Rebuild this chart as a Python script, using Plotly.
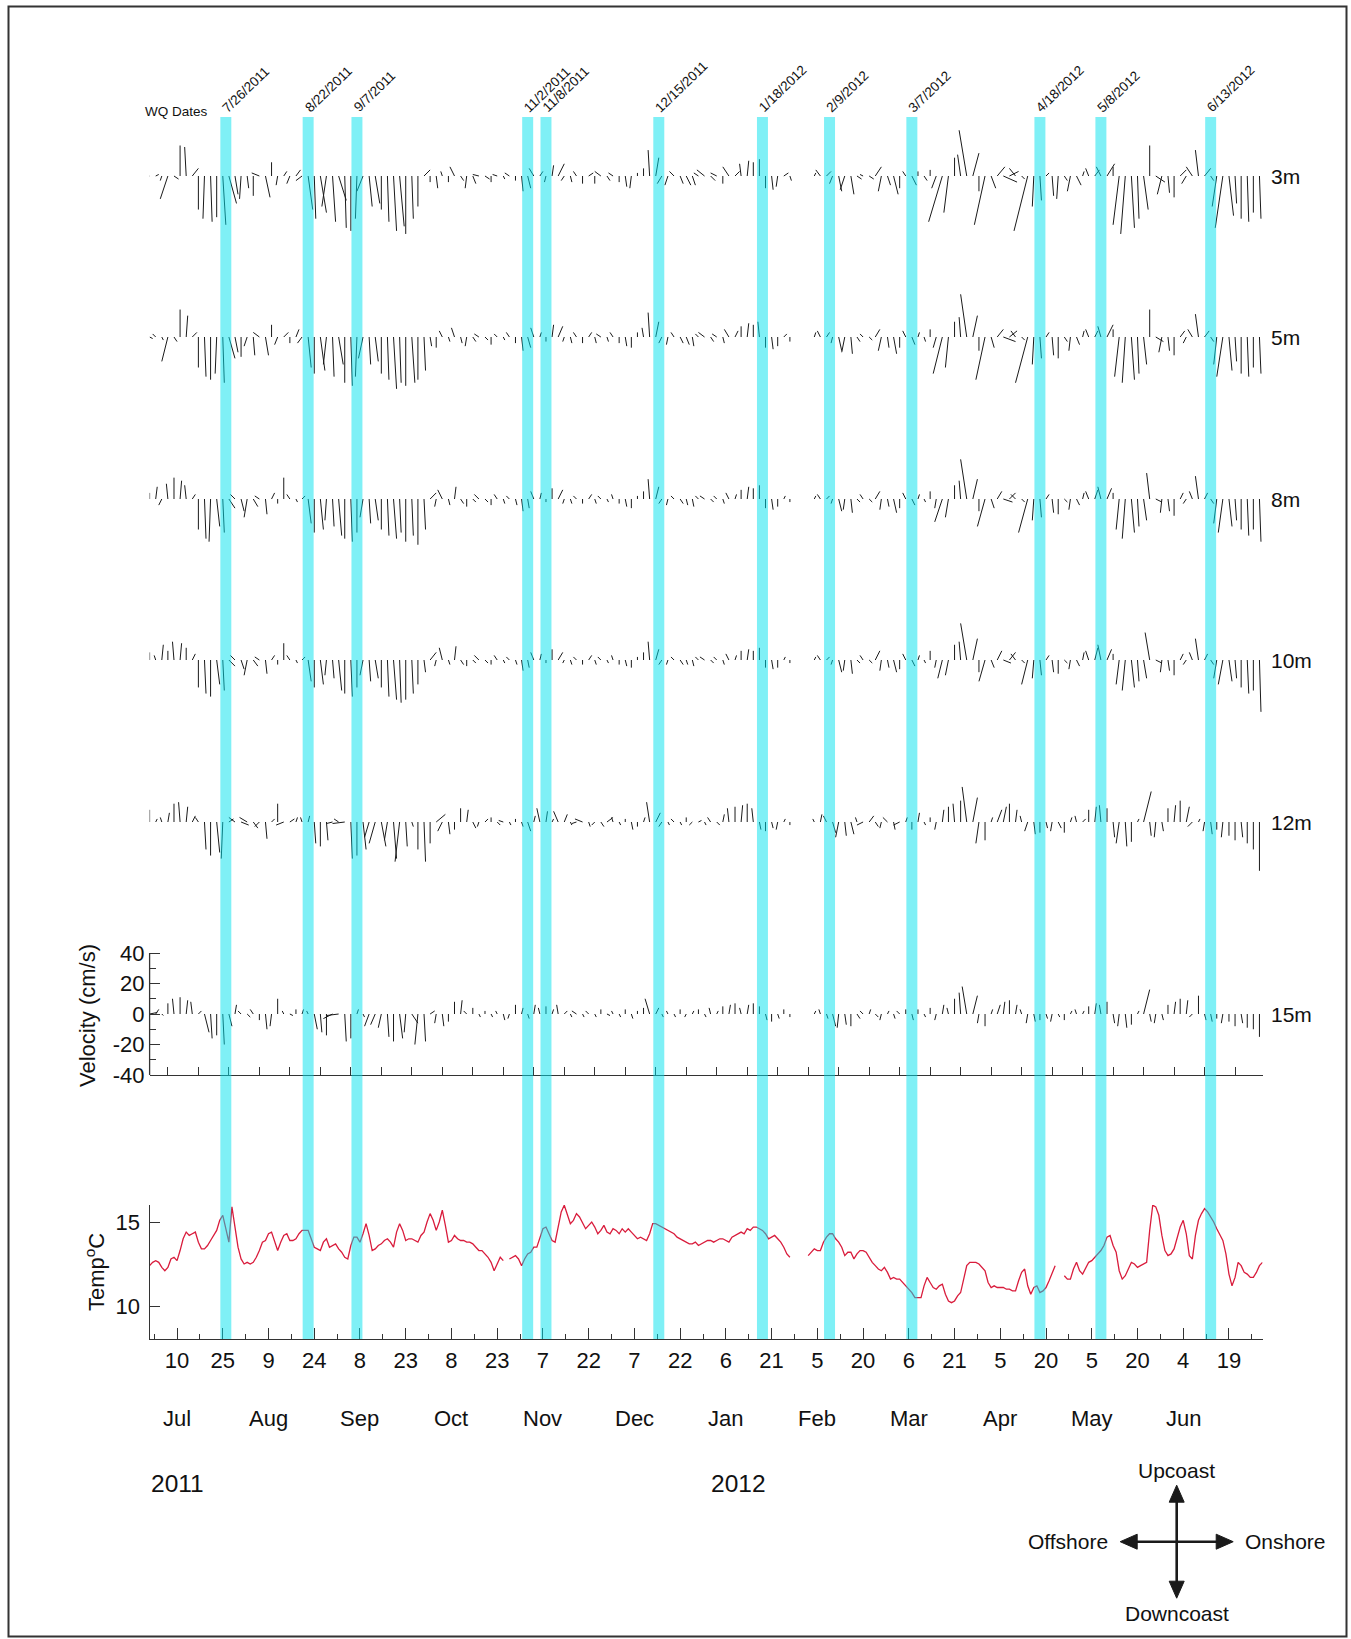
import plotly.graph_objects as go
from datetime import date

# ---------------------------------------------------------------- data
WQ_DATES = ["7/26/2011", "8/22/2011", "9/7/2011", "11/2/2011", "11/8/2011",
            "12/15/2011", "1/18/2012", "2/9/2012", "3/7/2012", "4/18/2012",
            "5/8/2012", "6/13/2012"]

DAY_TICK_LABELS = ["10", "25", "9", "24", "8", "23", "8", "23", "7", "22", "7", "22",
                   "6", "21", "5", "20", "6", "21", "5", "20", "5", "20", "4", "19"]
MONTHS = ["Jul", "Aug", "Sep", "Oct", "Nov", "Dec", "Jan", "Feb", "Mar", "Apr", "May", "Jun"]
YEARS = ["2011", "2012"]
DEPTHS = ["3m", "5m", "8m", "10m", "12m", "15m"]
VEL_TICKS = [-40, -20, 0, 20, 40]
TEMP_TICKS = [10, 15]

# current record: one stick every 2 days from 1 Jul 2011 (cm/s)
# v = along-shore (+ upcoast), u = cross-shore (+ onshore)
N = None
V3 = [-2, 1, -3, -15, -2, 20, 19, 5, -22, -28,
      -30, -27, -32, -18, -12, -15, -8, -13, 2, -14,
      9, -6, 3, -5, 4, -3, -22, -28, -24, -20,
      -30, -16, -34, -36, -28, -10, -20, -18, -22, -30,
      -36, -33, -38, -28, -20, 4, -4, -8, 3, -4,
      6, -3, -8, -5, 1, -2, -4, 1, -2, 2,
      -3, -10, -8, 5, 3, -4, 7, 8, -3, -4,
      3, -5, 2, -5, 3, -3, 2, -4, -7, -8,
      2, 5, 17, 12, -5, -6, 3, -5, -6, -6,
      2, 4, -3, 2, -5, 6, 3, 8, 10, 9,
      11, -8, -9, -7, 2, -3, N, N, N, 2,
      4, 3, -5, -10, -9, -12, -2, 1, -2, 6,
      -10, -6, -12, -8, 3, -6, 3, -3, 4, -8,
      -30, -24, 12, 14, 30, 15, -10, -32, -8, 6,
      -4, 3, 5, -2, -36, -20, -16, 2, -13, -15,
      -3, -10, -6, 3, 5, 4, 6, 8, 6, -32,
      -38, -34, -28, -22, 20, -4, -12, -11, -14, 4,
      -5, 6, 17, 5, -3, -20, -34, -26, -18, -28,
      -30, -24, -28]
U3 = [-3, 2, -1, -5, 3, 0, -1, 4, 0, -1,
      1, 0, 2, 5, 2, -1, 1, 0, -5, 3,
      0, -1, 2, -2, 3, -4, 3, 1, 4, -3,
      2, 5, 1, 0, -1, -4, 2, 3, 0, 1,
      2, 3, 0, 1, 0, 4, 0, 1, -1, 0,
      -3, 2, -1, 2, -4, 3, 0, -3, 1, -3,
      0, 1, 2, -3, 2, -1, 1, 4, -2, 1,
      -2, 0, 3, 0, -4, 2, -3, 0, 1, -1,
      0, 0, -1, 2, -3, -2, -3, 2, 3, 2,
      -3, -5, 3, -4, 0, -4, 3, -1, 1, 0,
      0, 0, 1, -1, 3, 1, N, N, N, 1,
      -3, 3, -2, 2, -3, 2, 3, -2, 3, 4,
      -2, 2, 3, 0, -2, 3, 0, 2, 0, -3,
      -9, -3, 0, -2, -5, 4, 0, -7, 3, 5,
      9, 6, -4, 2, -9, -1, 1, 2, 1, -1,
      2, -2, 3, 1, -2, 3, -3, 5, 0, -4,
      -3, 2, 1, 3, 0, 6, -3, 1, 0, 4,
      -3, -4, -2, 4, 2, -3, -5, 3, 1, 0,
      1, 0, 1]

V5 = [-1, 2, -2, -16, -3, 18, 14, 3, -20, -26,
      -28, -24, -30, -14, -10, -13, -6, -12, 3, -12,
      8, -5, 3, -4, 5, -4, -20, -24, -22, -18,
      -26, -18, -30, -32, -26, -14, -18, -16, -24, -28,
      -34, -30, -32, -30, -28, -22, -6, -7, 4, -3,
      6, -4, -6, -3, 2, -2, -5, 2, -2, 3,
      -4, -9, -7, 6, 3, -3, 8, 7, -3, -4,
      3, -4, 3, -4, 2, -3, 3, -4, -6, -7,
      3, 6, 16, 10, -4, -5, 3, -4, -5, -6,
      2, 3, -3, 2, -4, 5, 4, 7, 9, 8,
      10, -7, -8, -6, 2, -3, N, N, N, 3,
      4, 3, -4, -9, -10, -11, -3, 2, -2, 5,
      -9, -7, -11, -7, 4, -5, 3, -3, 5, -7,
      -24, -20, 10, 13, 28, 14, -9, -28, -7, 5,
      -3, 4, 4, -2, -30, -18, -14, 3, -12, -14,
      -3, -9, -5, 4, 5, 4, 7, 8, 5, -26,
      -30, -28, -24, -18, 18, -3, -10, -9, -12, 4,
      -4, 5, 15, 4, -3, -18, -26, -22, -16, -24,
      -26, -20, -24]
U5 = [2, -2, 1, -4, 2, 0, 1, 3, 0, 1,
      0, -1, 1, 4, 2, 0, -2, 1, -4, 2,
      0, -2, 3, 0, 2, -3, 2, 0, 3, -2,
      1, 3, 0, 1, -1, -3, 1, 2, 0, 1,
      2, 1, 0, 2, 0, 1, 1, 0, -2, 1,
      -2, 1, -1, 2, -3, 2, 0, -2, 1, -2,
      0, 1, 2, -2, 1, 0, 1, 3, -1, 1,
      -2, 0, 2, 1, -3, 1, -2, 0, 1, 0,
      0, -1, -1, 2, -2, -1, -2, 2, 2, 1,
      -2, -4, 2, -3, 1, -3, 2, 0, 1, 0,
      -1, 0, 1, 0, 2, 0, N, N, N, 1,
      -2, 2, -1, 2, -2, 1, 2, -2, 2, 3,
      -2, 1, 2, 0, -2, 2, 1, 1, 0, -2,
      -6, -2, 0, -1, -4, 3, 0, -6, 2, 4,
      8, 5, -3, 2, -8, -1, 1, 2, 1, 0,
      2, -1, 2, 1, -2, 2, -2, 4, 0, -3,
      -2, 2, 1, 2, 0, 5, -2, 1, 0, 3,
      -2, -3, -2, 3, 2, -2, -4, 2, 1, 0,
      1, 0, 1]

V8 = [4, 8, -4, 10, 14, 12, 9, 3, -20, -26,
      -28, -18, -22, -6, 3, -8, -12, -5, 2, -10,
      4, -3, 14, 3, -2, 2, -16, -22, -20, -14,
      -18, -24, -26, -28, -22, -12, -16, -14, -20, -24,
      -26, -22, -28, -24, -30, -20, 4, -5, 6, -4,
      8, -3, -5, -2, 3, -2, -4, 3, -3, 2,
      -4, -8, -6, 5, 4, -2, 7, 6, -3, -3,
      2, -3, 3, -3, 2, -2, 3, -3, -5, -6,
      2, 5, 13, 8, -3, -4, 2, -3, -4, -5,
      2, 2, -2, 2, -3, 4, 3, 6, 8, 7,
      9, -6, -7, -5, 2, -2, N, N, N, 2,
      3, 2, -3, -8, -7, -9, -2, 3, -2, 5,
      -7, -5, -9, -6, 4, -4, 3, -2, 5, -6,
      -15, -12, 9, 12, 26, 13, -8, -18, -6, 5,
      -2, 4, 3, -2, -22, -14, -12, 3, -9, -10,
      -2, -7, -4, 4, 5, 6, 8, 7, 4, -20,
      -26, -22, -18, -14, 17, -2, -9, -8, -11, 4,
      -3, 5, 15, 4, -3, -16, -22, -18, -14, -20,
      -24, -20, -28]
U8 = [0, 1, -2, -1, 0, 1, -1, 2, 0, 1,
      -1, 2, 1, 4, -3, 2, -2, 3, -3, 1,
      2, 0, 0, -2, 1, 2, 2, 0, 2, -1,
      1, 2, 0, 1, 0, -2, 1, 2, 0, 1,
      2, 1, 0, 1, 0, 1, 4, -1, -3, 1,
      1, 2, 0, 2, -3, 2, 0, -2, 1, -2,
      1, 1, 1, -2, 1, 0, 0, 3, -1, 1,
      -2, 0, 2, 1, -2, 1, -1, 0, 1, 0,
      0, 0, -1, 2, -2, -1, -2, 2, 1, 1,
      -2, -3, 2, -2, 1, -2, 1, 0, 1, 0,
      0, 0, 1, 0, 1, 0, N, N, N, 1,
      -2, 2, -1, 2, -1, 1, 2, -2, 2, 3,
      -1, 1, 2, 0, -2, 2, 1, 1, 0, -1,
      -5, -2, 0, -1, -4, 3, 0, -5, 2, 3,
      6, 4, -3, 2, -6, -1, 1, 2, 1, 0,
      2, -1, 2, 1, -2, 2, -2, 3, 0, -2,
      -2, 2, 1, 2, -2, 4, -1, 1, 0, 2,
      -2, -2, -2, 2, 2, -2, -3, 2, 1, 0,
      1, 0, 1]

V10 = [5, 3, 10, 6, 12, 11, 8, 4, -18, -22,
       -24, -16, -20, -4, 3, -6, -10, -4, 2, -9,
       3, -3, 11, 3, -2, 2, -14, -18, -16, -10,
       -12, -20, -22, -24, -18, -10, -14, -12, -18, -24,
       -26, -28, -26, -22, -16, -8, 5, -4, 8, -3,
       9, -3, -4, -2, 3, -2, -3, 3, -2, 2,
       -3, -7, -5, 5, 4, -2, 7, 5, -2, -3,
       2, -3, 3, -3, 2, -2, 3, -3, -4, -5,
       2, 5, 12, 7, -3, -3, 2, -3, -3, -4,
       2, 2, -2, 2, -3, 4, 3, 6, 7, 6,
       8, -5, -6, -5, 2, -2, N, N, N, 2,
       3, 2, -3, -8, -7, -9, -2, 3, -2, 6,
       -7, -5, -8, -6, 4, -4, 3, -2, 6, -5,
       -12, -10, 10, 12, 24, 14, -8, -14, -5, 6,
       -2, 5, 4, -2, -16, -12, -10, 3, -8, -9,
       -2, -6, -4, 5, 6, 8, 10, 7, 4, -16,
       -20, -18, -14, -12, 18, -2, -8, -7, -10, 4,
       -3, 5, 14, 4, -3, -12, -16, -14, -12, -18,
       -22, -20, -34]
U10 = [0, -1, 1, 0, -1, 1, 0, 2, 0, 1,
       0, 2, 1, 4, -3, 2, -2, 3, -3, 1,
       2, 0, 0, -2, 1, 2, 2, 0, 2, -1,
       1, 2, 0, 1, 0, -2, 1, 2, 0, 1,
       2, 1, 0, 1, 0, 1, 4, -1, -2, 1,
       1, 2, 0, 2, -3, 2, 0, -2, 1, -2,
       1, 1, 1, -2, 1, 0, 0, 3, -1, 1,
       -2, 0, 2, 1, -2, 1, -1, 0, 1, 0,
       0, 0, -1, 2, -2, -1, -2, 2, 1, 1,
       -2, -3, 2, -2, 1, -2, 1, 0, 1, 0,
       0, 0, 1, 0, 1, 0, N, N, N, 1,
       -2, 2, -1, 2, -1, 1, 2, -2, 2, 3,
       -1, 1, 2, 0, -2, 2, 1, 1, 0, -1,
       -3, -2, 0, -1, -4, 3, 0, -4, 2, 3,
       5, 4, -3, 2, -4, -1, 1, 2, 1, 0,
       2, -1, 2, 1, -2, 2, -2, 3, 0, -2,
       -2, 2, 1, 2, -3, 4, -1, 1, 0, 2,
       -2, -2, -2, 2, 2, -2, -3, 2, 1, 0,
       1, 0, 1]

V12 = [8, 2, 3, 6, 12, 13, 10, 4, 3, -18,
       -22, -20, -24, 2, 3, -2, 3, -4, -3, -11,
       2, 12, -2, 2, 3, 3, 4, -14, -16, -12,
       -1, 2, -1, -24, -22, -18, -10, -14, -16, -12,
       -24, -26, -16, -3, -18, -26, -14, 5, -6, -8,
       -5, 9, 8, -4, -3, 2, 3, -2, 1, -2,
       2, -3, -6, 4, 9, 7, 2, 7, 5, -2,
       -1, 2, -3, -2, -3, 3, 3, -2, 2, -5,
       -3, 3, 13, 6, -3, -2, 2, -2, 3, -2,
       1, -2, 3, -2, 5, 9, 10, 11, 12, 9,
       -5, -6, -4, -5, 2, -2, N, N, N, 2,
       5, 4, -7, -10, -9, -8, 3, -2, 4, -3,
       -4, 3, -5, -2, 3, -5, 6, -2, 3, -5,
       8, 10, 12, 14, 23, 16, -14, -12, 3, 8,
       10, 12, 8, 4, -6, -8, -7, -4, -6, -4,
       -7, 3, 4, 2, 8, 10, 11, 9, -10, -14,
       -16, -13, 2, 20, -9, -10, -6, 9, 11, 14,
       10, -3, 2, -6, -8, -5, -10, -9, -12, -10,
       -14, -18, -32]
U12 = [0, 1, -1, 1, 0, -1, 1, 2, -2, 1,
       0, 2, -1, 3, -4, 5, -5, 3, -3, 1,
       2, 0, -5, 3, 1, -1, 1, 1, 0, 1,
       -4, -3, -8, 1, 0, 2, -3, -4, 3, -2,
       2, -3, 1, 1, 0, 1, 0, 6, -3, 1,
       0, 0, 1, 2, -1, 2, 0, 2, -3, 1,
       0, 1, 2, 1, -2, 1, 1, -3, 2, 1,
       -3, -5, 1, -2, 2, 4, -1, 1, 0, 1,
       0, 1, -2, 3, -2, 1, -2, 1, 0, -2,
       2, 1, -2, 2, 1, -1, 0, 1, 0, -1,
       1, 0, 1, -1, 1, 0, N, N, N, -1,
       1, -2, 2, -2, 1, 2, -1, -4, 3, 2,
       -1, -3, 1, -4, 1, 0, 1, 1, 0, -1,
       1, 0, -1, 0, -3, 3, -2, 0, 1, 3,
       2, 0, 1, -1, -2, 1, 0, 1, -1, 2,
       0, 1, -1, 2, 0, 1, -1, 0, 1, -2,
       1, 0, 1, 5, 1, -1, 1, 0, 1, 0,
       2, -3, 1, -1, 1, 0, -1, 0, 0, 1,
       0, 0, 0]

V15 = [1, 3, -1, 7, 10, 11, 9, 8, 2, -12,
       -16, -14, -20, -8, 6, 2, -2, 3, -4, -10,
       -8, 10, 2, -1, 3, 3, 2, -10, -12, -14,
       -3, -1, -18, -16, 3, -2, -8, -7, -9, -15,
       -18, -16, -12, -6, -20, -18, 2, -6, -8, -5,
       8, 9, 2, 4, -2, 2, -2, 2, -4, -3,
       6, 4, -3, 6, 4, 5, 3, 6, 2, -2,
       2, -2, 2, -2, 3, -1, 2, -2, 3, -3,
       2, 4, 10, 4, -2, 2, -2, 3, -2, 2,
       3, -2, 4, 2, 5, 6, 7, 4, 6, 7,
       5, -4, -5, -3, 3, -2, N, N, N, 2,
       3, -3, -8, -9, -7, -8, -3, 2, 3, -2,
       -4, 2, -3, 2, 3, -4, 3, -2, 4, -4,
       6, 4, 10, 14, 18, 12, -6, -8, 3, 6,
       8, 9, 6, 3, -6, -5, -4, -3, -5, -2,
       -4, 2, 3, 2, 5, 7, 6, 8, -6, -8,
       -9, -7, 2, 16, -5, -6, -4, 6, 8, 10,
       9, -2, 12, -4, -5, -3, -6, -5, -8, -6,
       -9, -10, -15]
U15 = [5, 2, 1, 0, -1, 0, 1, -1, 2, 3,
       1, 0, 1, 2, 1, -2, 2, -2, 0, 1,
       -1, 0, -1, 2, 0, 1, -1, 2, 1, 0,
       -6, -8, 1, 0, 1, 1, -3, -3, -2, 1,
       0, 2, -1, 4, -2, 1, 3, -1, 1, 0,
       0, 1, -2, 0, 1, 0, 1, -1, 1, -1,
       0, 1, 1, 1, -1, 0, 1, -1, 2, 1,
       -3, 1, -2, 1, 0, 2, -1, 1, 0, 1,
       0, 0, -3, 2, 1, -1, 1, 0, -1, 1,
       0, 1, -1, 1, 0, 1, 0, -1, 1, 0,
       0, 1, 0, 1, 0, 0, N, N, N, 1,
       -1, 1, 2, -1, 1, 0, 2, -2, 1, 2,
       -1, 1, 1, -2, 0, 1, 0, 1, 0, -1,
       1, -1, 0, -1, -3, 3, -1, 0, 1, 2,
       1, 0, 1, -1, -1, 1, 0, 1, -1, 1,
       0, 1, -1, 1, 0, 1, -1, 0, 1, -1,
       1, 0, 1, 4, 1, -1, 1, 0, 1, 0,
       1, -2, 0, 1, 1, 0, -1, 0, 0, 1,
       0, 0, 0]

# daily mean temperature from 1 Jul 2011 (deg C), None = no data
TEMP = [12.4, 12.6, 12.7, 12.6, 12.3, 12.1, 12.3, 12.8, 12.9, 12.7,
        13.3, 14.0, 14.4, 14.2, 14.3, 14.4, 13.8, 13.4, 13.4, 13.6,
        13.9, 14.2, 14.5, 15.1, 15.4, 14.6, 13.8, 15.9, 14.8, 13.5,
        12.8, 12.5, 12.6, 12.5, 12.6, 12.9, 13.3, 13.8, 13.9, 14.3,
        14.4, 13.8, 13.3, 13.8, 14.2, 14.3, 13.9, 13.9, 14.0, 14.3,
        14.5, 14.5, 14.5, 14.0, 13.5, 13.4, 13.3, 13.8, 14.0, 13.5,
        13.6, 13.7, 13.4, 13.2, 12.9, 12.8, 13.6, 14.1, 14.1, 13.8,
        14.3, 14.9, 14.2, 13.3, 13.4, 13.6, 13.7, 13.9, 14.0, 13.8,
        13.5, 14.4, 14.9, 14.5, 13.9, 14.0, 14.0, 13.9, 13.8, 14.2,
        14.4, 15.0, 15.5, 15.1, 14.5, 15.0, 15.7, 14.8, 13.8, 13.9,
        14.2, 14.0, 13.9, 13.9, 13.8, 13.8, 13.7, 13.5, 13.3, 13.3,
        13.1, 12.9, 12.6, 12.1, 12.5, 12.9, 12.7, None, 12.8, 12.9,
        13.0, 12.8, 12.4, 12.8, 13.1, 13.2, 13.5, 13.5, 14.0, 14.6,
        14.7, 14.3, 13.9, 13.8, 14.8, 15.6, 16.0, 15.4, 14.9, 15.1,
        15.5, 15.3, 14.9, 14.6, 14.8, 15.0, 14.7, 14.3, 14.5, 14.8,
        14.4, 14.3, 14.6, 14.5, 14.3, 14.6, 14.4, 14.6, 14.4, 14.2,
        14.0, 14.1, 14.0, 13.9, 14.3, 14.9, 14.9, 14.8, 14.7, 14.6,
        14.5, 14.4, 14.3, 14.1, 14.0, 13.9, 13.8, 13.7, 13.7, 13.8,
        13.6, 13.7, 13.8, 13.9, 13.9, 13.8, 13.9, 14.0, 14.0, 13.9,
        13.8, 14.1, 14.2, 14.3, 14.4, 14.3, 14.6, 14.5, 14.7, 14.7,
        14.6, 14.5, 14.3, 14.0, 14.1, 14.2, 14.0, 13.8, 13.5, 13.1,
        12.9, None, None, None, None, None, 13.0, 13.2, 13.4, 13.3,
        13.3, 13.8, 14.1, 14.3, 14.3, 14.0, 13.8, 13.5, 13.0, 13.2,
        13.2, 12.8, 13.1, 13.3, 13.3, 13.2, 12.9, 12.6, 12.4, 12.2,
        12.1, 12.3, 12.0, 11.6, 11.7, 11.6, 11.6, 11.4, 11.2, 11.0,
        10.8, 10.5, 10.5, 10.5, 11.2, 11.7, 11.4, 11.1, 11.0, 11.2,
        11.3, 10.7, 10.3, 10.2, 10.3, 10.6, 10.8, 11.6, 12.4, 12.6,
        12.6, 12.6, 12.5, 12.3, 12.1, 11.4, 11.1, 11.2, 11.1, 11.1,
        11.1, 11.0, 11.0, 10.9, 10.9, 11.5, 12.0, 12.2, 11.2, 10.7,
        11.1, 11.2, 10.8, 10.9, 11.1, 11.5, 12.0, 12.4, None, None,
        11.8, 11.6, 11.6, 12.2, 12.6, 12.1, 11.9, 12.3, 12.6, 12.7,
        12.9, 13.1, 13.3, 13.6, 14.1, 14.2, 13.6, 13.2, 12.1, 11.6,
        11.8, 12.2, 12.6, 12.5, 12.3, 12.4, 12.5, 12.6, 14.5, 16.0,
        15.9, 15.4, 14.2, 13.3, 13.0, 13.1, 13.4, 14.0, 14.7, 15.1,
        14.3, 13.0, 12.8, 14.2, 15.1, 15.5, 15.8, 15.6, 15.3, 15.0,
        14.6, 14.2, 13.9, 13.1, 11.9, 11.2, 11.7, 12.6, 12.4, 12.0,
        11.9, 11.7, 11.7, 12.0, 12.4, 12.6]

STICK_DT = 2  # days between current sticks
DEPTH_U = [U3, U5, U8, U10, U12, U15]
DEPTH_V = [V3, V5, V8, V10, V12, V15]

# ---------------------------------------------------------------- layout geometry (pixels)
W, H = 1351, 1639
FONT = "Liberation Sans, Arial, Helvetica, sans-serif"
INK = "#1a1a1a"


def px(x):
    return x / W


def py(y):
    return 1 - y / H


DAY0 = date(2011, 7, 1)
N_DAYS = 365
X_LEFT, X_RIGHT = 149.6, 1262.5
PX_PER_DAY = (X_RIGHT - X_LEFT) / N_DAYS

VEL_TOP_PX, VEL_BOT_PX, VEL_ZERO_PX = 100, 1075, 1014
VEL_PX_PER_UNIT = (VEL_BOT_PX - VEL_ZERO_PX) / 40.0
VEL_RANGE = [-40, (VEL_ZERO_PX - VEL_TOP_PX) / VEL_PX_PER_UNIT]
BASELINE_PX = [176, 337, 499, 660, 822, 1014]
OFFSETS = [(VEL_ZERO_PX - b) / VEL_PX_PER_UNIT for b in BASELINE_PX]
U_TO_DAYS = VEL_PX_PER_UNIT / PX_PER_DAY   # equal scale for both stick components

TEMP_TOP_PX, TEMP_BOT_PX = 1205, 1339
T15_PX, T10_PX = 1222, 1306
T_PX_PER_DEG = (T10_PX - T15_PX) / 5.0
TEMP_RANGE = [10 - (TEMP_BOT_PX - T10_PX) / T_PX_PER_DEG, 15 + (T15_PX - TEMP_TOP_PX) / T_PX_PER_DEG]

BAND_TOP_PX = 117
BAND_HALF = 1.8


def day_of(s):
    m, d, y = (int(p) for p in s.split("/"))
    return (date(y, m, d) - DAY0).days


wq_days = [day_of(s) for s in WQ_DATES]
major_days = [9 + 15 * k for k in range(len(DAY_TICK_LABELS))]
minor_days = [1.5 + 15 * k for k in range(len(DAY_TICK_LABELS) + 1) if 1.5 + 15 * k <= N_DAYS]
month_days = major_days[::2]

fig = go.Figure()

# ---------------------------------------------------------------- stick plots
for u_list, v_list, base in zip(DEPTH_U, DEPTH_V, OFFSETS):
    xs, ys = [], []
    for i, (u, v) in enumerate(zip(u_list, v_list)):
        if u is None or v is None:
            continue
        t = i * STICK_DT
        xs += [t, t + u * U_TO_DAYS, None]
        ys += [base, base + v, None]
    fig.add_trace(go.Scatter(x=xs, y=ys, mode="lines", line=dict(color=INK, width=1),
                             xaxis="x", yaxis="y", hoverinfo="skip", showlegend=False))

# ---------------------------------------------------------------- temperature
fig.add_trace(go.Scatter(x=list(range(len(TEMP))), y=TEMP, mode="lines",
                         line=dict(color="#d91c3c", width=1.3), connectgaps=False,
                         xaxis="x2", yaxis="y2", hoverinfo="skip", showlegend=False))

# ---------------------------------------------------------------- axes
x_dom = [px(X_LEFT), px(X_RIGHT)]
axis_common = dict(showgrid=False, zeroline=False, linecolor="#333", linewidth=1.3,
                   tickcolor="#333", tickwidth=1.2, ticks="inside", automargin=False,
                   tickfont=dict(family=FONT, size=22, color="#111"))
axis_nofont = {k: v for k, v in axis_common.items() if k != "tickfont"}

vel_xticks = [6 + 10 * k for k in range(37) if 6 + 10 * k <= N_DAYS]

fig.update_layout(
    width=W, height=H, autosize=False,
    margin=dict(l=0, r=0, t=0, b=0, pad=0, autoexpand=False),
    paper_bgcolor="white", plot_bgcolor="rgba(0,0,0,0)", showlegend=False,
    xaxis=dict(domain=x_dom, range=[0, N_DAYS], anchor="y", showline=True,
               tickvals=vel_xticks, ticklen=8, showticklabels=False, **axis_nofont),
    yaxis=dict(domain=[py(VEL_BOT_PX), py(VEL_TOP_PX)], range=VEL_RANGE, anchor="x",
               showline=False, tickvals=VEL_TICKS, ticktext=[str(v) for v in VEL_TICKS],
               ticklen=10, ticklabelstandoff=4,
               minor=dict(tickvals=[-30, -10, 10, 30], ticklen=6, ticks="inside",
                          tickcolor="#333", tickwidth=1.2),
               **axis_common),
    xaxis2=dict(domain=x_dom, range=[0, N_DAYS], anchor="y2", showline=True,
                tickvals=major_days, ticktext=DAY_TICK_LABELS,
                ticklen=11, ticklabelstandoff=1,
                minor=dict(tickvals=minor_days, ticklen=5, ticks="inside",
                           tickcolor="#333", tickwidth=1.2),
                **axis_common),
    # sampling-date ticks on the temperature time axis
    xaxis3=dict(domain=x_dom, range=[0, N_DAYS], anchor="y2", overlaying="x2", side="bottom",
                showline=False, tickvals=wq_days, ticklen=11, showticklabels=False,
                **axis_nofont),
    yaxis2=dict(domain=[py(TEMP_BOT_PX), py(TEMP_TOP_PX)], range=TEMP_RANGE, anchor="x2",
                showline=True, tickvals=TEMP_TICKS, ticktext=[str(v) for v in TEMP_TICKS],
                ticklen=10, ticklabelstandoff=4, **axis_common),
)

shapes = []
# velocity axis spine only over the labelled range
shapes.append(dict(type="line", xref="paper", yref="y", x0=px(X_LEFT), x1=px(X_LEFT),
                   y0=VEL_TICKS[0], y1=VEL_TICKS[-1], line=dict(color="#333", width=1.3)))
# water-quality sampling bands
for d in wq_days:
    shapes.append(dict(type="rect", xref="x", yref="paper", x0=d - BAND_HALF, x1=d + BAND_HALF,
                       y0=py(TEMP_BOT_PX), y1=py(BAND_TOP_PX), fillcolor="rgba(0,226,238,0.5)",
                       line=dict(width=0), layer="above"))
# outer frame
shapes.append(dict(type="rect", xref="paper", yref="paper", x0=px(8.5), x1=px(1346.5),
                   y0=py(1636.5), y1=py(6.5), line=dict(color="#333", width=2)))

# compass
CX, CY = 1176.7, 1541.7
ARM_V, ARM_H = 56.5, 56.5
HEAD_L, HEAD_W = 17, 7.5
shapes.append(dict(type="line", xref="paper", yref="paper", x0=px(CX), x1=px(CX),
                   y0=py(CY - ARM_V + HEAD_L - 2), y1=py(CY + ARM_V - HEAD_L + 2),
                   line=dict(color=INK, width=2.6)))
shapes.append(dict(type="line", xref="paper", yref="paper", x0=px(CX - ARM_H + HEAD_L - 2),
                   x1=px(CX + ARM_H - HEAD_L + 2), y0=py(CY), y1=py(CY),
                   line=dict(color=INK, width=2.6)))


def tri(p0, p1, p2):
    return "M {} {} L {} {} L {} {} Z".format(px(p0[0]), py(p0[1]), px(p1[0]), py(p1[1]),
                                               px(p2[0]), py(p2[1]))


heads = [
    tri((CX, CY - ARM_V), (CX - HEAD_W, CY - ARM_V + HEAD_L), (CX + HEAD_W, CY - ARM_V + HEAD_L)),
    tri((CX, CY + ARM_V), (CX - HEAD_W, CY + ARM_V - HEAD_L), (CX + HEAD_W, CY + ARM_V - HEAD_L)),
    tri((CX - ARM_H, CY), (CX - ARM_H + HEAD_L, CY - HEAD_W), (CX - ARM_H + HEAD_L, CY + HEAD_W)),
    tri((CX + ARM_H, CY), (CX + ARM_H - HEAD_L, CY - HEAD_W), (CX + ARM_H - HEAD_L, CY + HEAD_W)),
]
for p in heads:
    shapes.append(dict(type="path", xref="paper", yref="paper", path=p,
                       fillcolor=INK, line=dict(color=INK, width=1)))

fig.update_layout(shapes=shapes)

# ---------------------------------------------------------------- text
ann = []


def text(x, y, s, size, xref="paper", yref="paper", xanchor="center", yanchor="middle",
         angle=0):
    ann.append(dict(x=x, y=y, xref=xref, yref=yref, text=s, showarrow=False,
                    xanchor=xanchor, yanchor=yanchor, textangle=angle,
                    font=dict(family=FONT, size=size, color="#111")))


text(px(176.5), py(112), "WQ Dates", 13.5)
for d, s in zip(wq_days, WQ_DATES):
    text(d - 3.0, py(BAND_TOP_PX + 1), s, 13.5, xref="x", xanchor="left", yanchor="bottom",
         angle=-44)

for name, base in zip(DEPTHS, OFFSETS):
    text(px(1269), base, name, 21, yref="y", xanchor="left")

for d, m in zip(month_days, MONTHS):
    text(d, py(1418), m, 22, xref="x2")
text(9, py(1483), YEARS[0], 24.5, xref="x2")
text(193, py(1483), YEARS[1], 24.5, xref="x2")

text(px(88), py(1015), "Velocity (cm/s)", 22, angle=-90)
text(px(95), py(1272), "Temp<sup>o</sup>C", 22, angle=-90)

text(px(CX), py(1470), "Upcoast", 21)
text(px(CX), py(1613), "Downcoast", 21)
text(px(1110), py(CY), "Offshore", 21, xanchor="right")
text(px(1243), py(CY), "Onshore", 21, xanchor="left")

fig.update_layout(annotations=ann)

fig.write_html("out.html", config={"displayModeBar": False})
